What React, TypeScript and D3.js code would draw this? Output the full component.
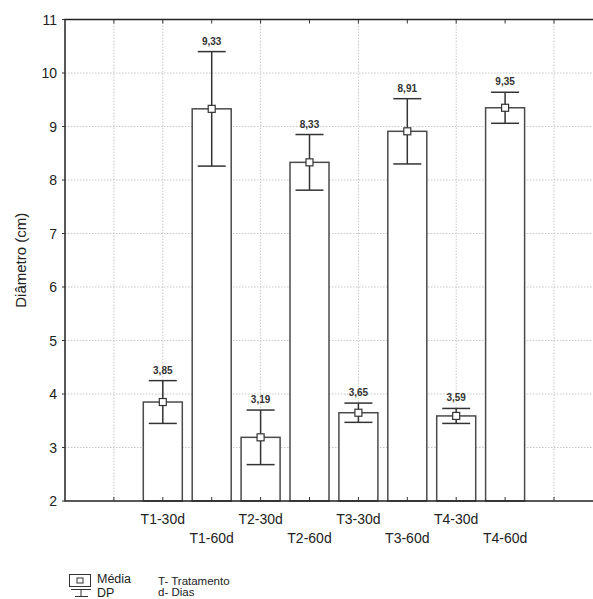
import React, { useRef, useEffect } from "react";
import { select, scaleLinear, range } from "d3";

const categories = ["T1-30d", "T1-60d", "T2-30d", "T2-60d", "T3-30d", "T3-60d", "T4-30d", "T4-60d"];
const means = [3.85, 9.33, 3.19, 8.33, 3.65, 8.91, 3.59, 9.35];
const sd = [0.4, 1.07, 0.51, 0.52, 0.18, 0.61, 0.14, 0.29];
const meanLabels = ["3,85", "9,33", "3,19", "8,33", "3,65", "8,91", "3,59", "9,35"];
const yTicks = [2, 3, 4, 5, 6, 7, 8, 9, 10, 11];
const xGridSlots = [1, 2, 4, 6, 8, 10];

const W = 593;
const H = 599;
const left = 65;
const top = 19.5;
const bottom = 501;
const slotW = 48.9;

function App() {
  const svgRef = useRef(null);

  useEffect(() => {
    const svg = select(svgRef.current);
    svg.selectAll("*").remove();

    // scales
    const xScale = scaleLinear().domain([0, 11]).range([left, left + 11 * slotW]);
    const yScale = scaleLinear().domain([2, 11]).range([bottom, top]);
    const right = xScale(11);
    const barW = 39;
    const font = "Arial, 'Liberation Sans', sans-serif";

    // grid
    svg.append("g")
      .selectAll("line")
      .data(yTicks.slice(1, -1))
      .join("line")
      .attr("x1", left).attr("x2", right)
      .attr("y1", d => yScale(d)).attr("y2", d => yScale(d))
      .attr("stroke", "#c8c8c8").attr("stroke-dasharray", "1.5,1.5");
    svg.append("g")
      .selectAll("line")
      .data(xGridSlots)
      .join("line")
      .attr("x1", d => xScale(d)).attr("x2", d => xScale(d))
      .attr("y1", top).attr("y2", bottom)
      .attr("stroke", "#c8c8c8").attr("stroke-dasharray", "1.5,1.5");

    // bars
    svg.append("g")
      .selectAll("rect")
      .data(means)
      .join("rect")
      .attr("x", (d, i) => xScale(i + 2) - barW / 2)
      .attr("y", d => yScale(d))
      .attr("width", barW)
      .attr("height", d => bottom - yScale(d))
      .attr("fill", "#fff")
      .attr("stroke", "#4a4a4a")
      .attr("stroke-width", 1.5);

    // error bars
    const err = svg.append("g").attr("stroke", "#333").attr("stroke-width", 1.5);
    means.forEach((m, i) => {
      const cx = xScale(i + 2);
      const y1 = yScale(m + sd[i]);
      const y2 = yScale(m - sd[i]);
      err.append("line").attr("x1", cx).attr("x2", cx).attr("y1", y1).attr("y2", y2);
      err.append("line").attr("x1", cx - 14).attr("x2", cx + 14).attr("y1", y1).attr("y2", y1);
      err.append("line").attr("x1", cx - 14).attr("x2", cx + 14).attr("y1", y2).attr("y2", y2);
      err.append("rect")
        .attr("x", cx - 3.5).attr("y", yScale(m) - 3.5)
        .attr("width", 7).attr("height", 7)
        .attr("fill", "#fff").attr("stroke-width", 1.2);
      svg.append("text")
        .attr("x", cx).attr("y", y1 - 7)
        .attr("text-anchor", "middle")
        .attr("font-family", font).attr("font-size", 10).attr("font-weight", "bold")
        .attr("fill", "#333")
        .text(meanLabels[i]);
    });

    // frame
    svg.append("path")
      .attr("d", `M${right},${top}H${left}V${bottom}H${right}`)
      .attr("fill", "none").attr("stroke", "#222").attr("stroke-width", 1.5);

    // x ticks (inside, top and bottom)
    const ticks = range(1, 11);
    svg.append("g").selectAll("line").data(ticks).join("line")
      .attr("x1", d => xScale(d)).attr("x2", d => xScale(d))
      .attr("y1", top).attr("y2", top + 4)
      .attr("stroke", "#333");
    svg.append("g").selectAll("line").data(ticks).join("line")
      .attr("x1", d => xScale(d)).attr("x2", d => xScale(d))
      .attr("y1", bottom).attr("y2", bottom - 4)
      .attr("stroke", "#333");

    // y axis ticks + labels
    svg.append("g").selectAll("line").data(yTicks).join("line")
      .attr("x1", left - 3).attr("x2", left)
      .attr("y1", d => yScale(d)).attr("y2", d => yScale(d))
      .attr("stroke", "#333");
    svg.append("g").selectAll("text").data(yTicks).join("text")
      .attr("x", left - 8).attr("y", d => yScale(d) + 5)
      .attr("text-anchor", "end")
      .attr("font-family", font).attr("font-size", 14).attr("fill", "#222")
      .text(d => d);

    // x labels, staggered
    svg.append("g").selectAll("text").data(categories).join("text")
      .attr("x", (d, i) => xScale(i + 2))
      .attr("y", (d, i) => (i % 2 === 0 ? 524 : 543))
      .attr("text-anchor", "middle")
      .attr("font-family", font).attr("font-size", 14).attr("fill", "#222")
      .text(d => d);

    // y title
    svg.append("text")
      .attr("transform", `translate(26,${(top + bottom) / 2}) rotate(-90)`)
      .attr("text-anchor", "middle")
      .attr("font-family", font).attr("font-size", 15).attr("fill", "#222")
      .text("Diâmetro (cm)");

    // legend
    const lg = svg.append("g").attr("stroke", "#333").attr("fill", "none");
    lg.append("rect").attr("x", 69.5).attr("y", 574.5).attr("width", 21).attr("height", 12);
    lg.append("rect").attr("x", 77).attr("y", 578).attr("width", 6).attr("height", 5);
    lg.append("line").attr("x1", 71).attr("x2", 91).attr("y1", 589.5).attr("y2", 589.5);
    lg.append("line").attr("x1", 81).attr("x2", 81).attr("y1", 589.5).attr("y2", 596.5);
    lg.append("line").attr("x1", 75).attr("x2", 88).attr("y1", 596.5).attr("y2", 596.5);

    const legendText = [
      { x: 97, y: 583, s: 12.5, t: "Média" },
      { x: 97, y: 597, s: 12.5, t: "DP" },
      { x: 158, y: 585, s: 11.5, t: "T- Tratamento" },
      { x: 158, y: 596, s: 11.5, t: "d- Dias" },
    ];
    svg.append("g").selectAll("text").data(legendText).join("text")
      .attr("x", d => d.x).attr("y", d => d.y)
      .attr("font-family", font).attr("font-size", d => d.s).attr("fill", "#222")
      .text(d => d.t);
  }, []);

  return (
    <div style={{ position: "absolute", left: 0, top: 0, width: W, height: H, background: "#fff" }}>
      <svg ref={svgRef} width={W} height={H} style={{ display: "block" }} />
    </div>
  );
}

export default App;
